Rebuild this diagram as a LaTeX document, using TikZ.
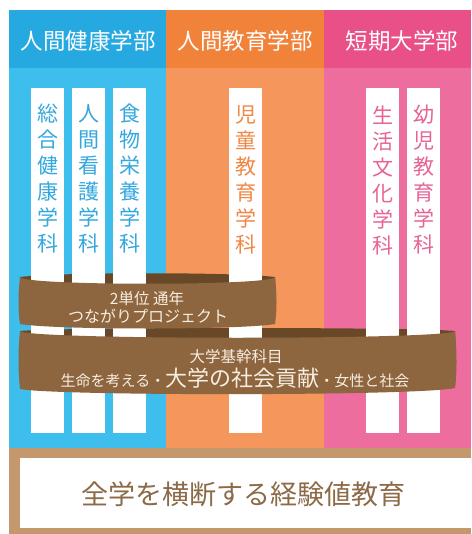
\documentclass[tikz,border=0pt]{standalone}
\usepackage{fontspec}
\setmainfont{Noto Sans CJK JP}
\definecolor{bluehead}{RGB}{38,169,224}
\definecolor{bluebody}{RGB}{62,190,236}
\definecolor{orangehead}{RGB}{240,130,58}
\definecolor{orangebody}{RGB}{245,150,92}
\definecolor{pinkhead}{RGB}{232,80,135}
\definecolor{pinkbody}{RGB}{237,110,158}
\definecolor{bluetext}{RGB}{52,168,222}
\definecolor{orangetext}{RGB}{240,135,70}
\definecolor{pinktext}{RGB}{230,100,150}
\definecolor{bandfront}{RGB}{141,101,63}
\definecolor{bandrim}{RGB}{105,72,40}
\definecolor{bandtext}{RGB}{248,238,224}
\definecolor{framebrown}{RGB}{196,152,108}
\definecolor{mottotext}{RGB}{140,106,72}
\tikzset{
  headtext/.style={text=white,font=\fontsize{22.5}{22.5}\selectfont,inner sep=0pt},
  stripbox/.style={fill=white,draw=none,minimum width=33pt,minimum height=345pt,inner sep=0pt},
  striptext/.style={font=\fontsize{21}{26}\selectfont,align=center,inner sep=0pt},
  bandlabel/.style={text=bandtext,inner sep=0pt},
  rim/.style={fill=bandrim},
  front/.style={fill=bandfront},
}
\begin{document}
\begin{tikzpicture}[x=1pt,y=-1pt]
\useasboundingbox (0,0) rectangle (471,534);
\fill[white] (0,0) rectangle (471,534);
% columns
\fill[bluebody] (9,10) rectangle (166,448);
\fill[bluehead] (9,10) rectangle (166,68);
\fill[orangebody] (166,10) rectangle (324,448);
\fill[orangehead] (166,10) rectangle (324,68);
\fill[pinkbody] (324,10) rectangle (471,448);
\fill[pinkhead] (324,10) rectangle (471,68);
\node[headtext] (h1) at (88,41) {人間健康学部};
\node[headtext] (h2) at (245,41) {人間教育学部};
\node[headtext] (h3) at (402,41) {短期大学部};
% bottom frame
\fill[framebrown] (9,448) rectangle (471,534);
\fill[white] (20,458) rectangle (471,528);
\node[text=mottotext,font=\fontsize{27}{27}\selectfont,inner sep=0pt] (motto) at (243,494) {全学を横断する経験値教育};
% band rims (behind strips)
\path[rim] (20,331) .. controls (60,327) and (415,327) .. (455,331) -- (455,360) -- (20,360) -- cycle;
\path[rim] (20,277) .. controls (60,272) and (235,272) .. (275,277) -- (275,300) -- (20,300) -- cycle;
% strips
\node[stripbox] (s1) at (47.5,260.5) {};
\node[stripbox] (s2) at (88.5,260.5) {};
\node[stripbox] (s3) at (129.5,260.5) {};
\node[stripbox] (s4) at (245.5,260.5) {};
\node[stripbox] (s5) at (382.5,260.5) {};
\node[stripbox] (s6) at (423.5,260.5) {};
\node[striptext,text=bluetext] (t1) at (47.5,178.5) {総\\合\\健\\康\\学\\科};
\node[striptext,text=bluetext] (t2) at (88.5,178.5) {人\\間\\看\\護\\学\\科};
\node[striptext,text=bluetext] (t3) at (129.5,178.5) {食\\物\\栄\\養\\学\\科};
\node[striptext,text=orangetext] (t4) at (245.5,180) {児\\童\\教\\育\\学\\科};
\node[striptext,text=pinktext] (t5) at (382.5,180) {生\\活\\文\\化\\学\\科};
\node[striptext,text=pinktext] (t6) at (423.5,180) {幼\\児\\教\\育\\学\\科};
% band fronts
\path[front] (20,331) .. controls (24,340) and (451,340) .. (455,331)
  .. controls (457,350) and (457,375) .. (455,388)
  .. controls (420,396) and (55,396) .. (20,389)
  .. controls (18,370) and (18,350) .. (20,331) -- cycle;
\path[front] (20,277) .. controls (22,286) and (273,286) .. (275,277)
  .. controls (277,295) and (277,310) .. (275,324)
  .. controls (240,330) and (55,330) .. (20,324)
  .. controls (18,310) and (18,295) .. (20,277) -- cycle;
% band labels
\node[bandlabel,font=\fontsize{15.5}{15.5}\selectfont] (u1) at (147,299) {2単位 通年};
\node[bandlabel,font=\fontsize{16}{16}\selectfont] (u2) at (148,316) {つながりプロジェクト};
\node[bandlabel,font=\fontsize{15.5}{15.5}\selectfont] (l1) at (236,357) {大学基幹科目};
\node[bandlabel] (l2) at (235,378) {{\fontsize{15}{15}\selectfont 生命を考える・}{\fontsize{22}{22}\selectfont 大学の社会貢献}{\fontsize{15}{15}\selectfont ・女性と社会}};
\end{tikzpicture}
\end{document}
